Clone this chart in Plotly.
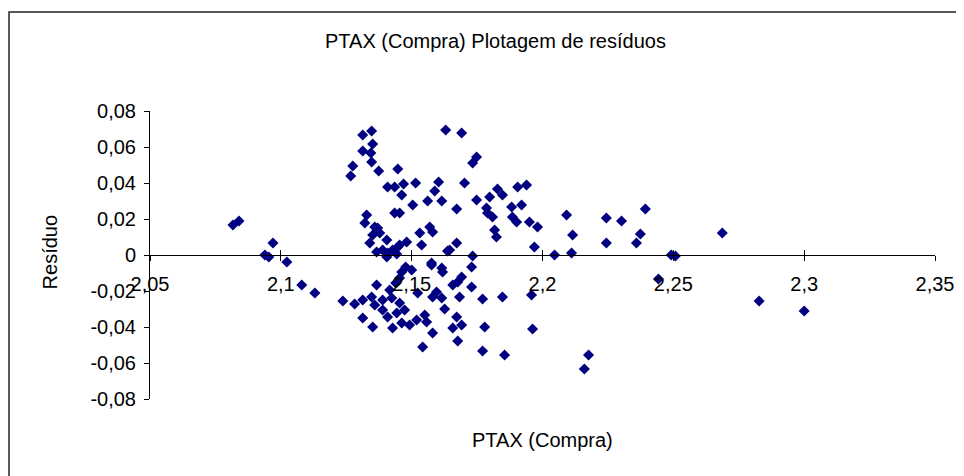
import plotly.graph_objects as go

# =============== data
ptax = [
    2.0817, 2.0840, 2.0939, 2.0954, 2.0970, 2.1023, 2.1080, 2.1130, 2.1237,
    2.1313, 2.1347, 2.1351, 2.1313, 2.1344, 2.1347, 2.1275, 2.1267, 2.1374, 2.1447,
    2.1408, 2.1435, 2.1462, 2.1469, 2.1515, 2.1630, 2.1691, 2.1748, 2.1733, 2.1603,
    2.1588, 2.1561, 2.1615, 2.1702, 2.1672, 2.1504, 2.1435, 2.1454, 2.1748, 2.1786,
    2.1328, 2.1321, 2.1370, 2.1351, 2.1340, 2.1405, 2.1389, 2.1408, 2.1481, 2.1447,
    2.1531, 2.1569, 2.1580, 2.1538, 2.1672, 2.1637, 2.1733, 2.1378, 2.1359, 2.1427,
    2.1454, 2.1645, 2.1366,
    2.1405, 2.1443, 2.1477, 2.1462, 2.1500, 2.1576, 2.1615, 2.1618, 2.1691, 2.1676,
    2.1729, 2.1366, 2.1282, 2.1313, 2.1347, 2.1389, 2.1408, 2.1313, 2.1351, 2.1454,
    2.1443, 2.1523, 2.1595, 2.1615, 2.1580, 2.1626, 2.1672, 2.1691, 2.1657, 2.1427,
    2.1462, 2.1492, 2.1519, 2.1550, 2.1557, 2.1580, 2.1542, 2.1676, 2.1771, 2.1779,
    2.1771, 2.1424, 2.1454, 2.1576, 2.1657, 2.1683, 2.1389, 2.1416, 2.1359, 2.1473,
    2.1439,
    2.1828, 2.1847, 2.1798, 2.1790, 2.1809, 2.1882, 2.1920, 2.1905, 2.1939, 2.1885,
    2.1901, 2.1950, 2.1981, 2.1817, 2.1824, 2.1969, 2.2046, 2.2111, 2.2092, 2.2115,
    2.2244, 2.2302, 2.2244, 2.2393, 2.2374, 2.2359, 2.2492, 2.2508, 2.2443, 2.2687,
    2.2828, 2.3000, 2.1729, 2.1847, 2.1958, 2.1962, 2.1855, 2.2176, 2.2160,
]
residuo = [
    0.0167, 0.0189, 0.0000, -0.0011, 0.0067, -0.0039, -0.0167, -0.0211, -0.0256,
    0.0667, 0.0689, 0.0617, 0.0578, 0.0567, 0.0517, 0.0494, 0.0439, 0.0467, 0.0478,
    0.0378, 0.0378, 0.0333, 0.0394, 0.0400, 0.0694, 0.0678, 0.0544, 0.0511, 0.0406,
    0.0356, 0.0300, 0.0300, 0.0400, 0.0256, 0.0278, 0.0233, 0.0233, 0.0306, 0.0261,
    0.0222, 0.0178, 0.0150, 0.0111, 0.0067, 0.0083, 0.0028, 0.0011, 0.0072, 0.0044,
    0.0122, 0.0156, 0.0128, 0.0056, 0.0067, 0.0022, -0.0006, 0.0122, 0.0156, 0.0028,
    0.0056, 0.0028, 0.0017,
    -0.0011, 0.0006, -0.0067, -0.0094, -0.0083, -0.0056, -0.0072, -0.0094, -0.0122, -0.0150,
    -0.0178, -0.0167, -0.0272, -0.0250, -0.0233, -0.0306, -0.0344, -0.0350, -0.0400, -0.0267,
    -0.0322, -0.0211, -0.0206, -0.0239, -0.0233, -0.0300, -0.0344, -0.0389, -0.0406, -0.0406,
    -0.0378, -0.0389, -0.0361, -0.0333, -0.0372, -0.0433, -0.0511, -0.0478, -0.0244, -0.0400,
    -0.0533, -0.0239, -0.0128, -0.0044, -0.0167, -0.0233, -0.0250, -0.0194, -0.0278, -0.0306,
    -0.0156,
    0.0367, 0.0333, 0.0322, 0.0233, 0.0211, 0.0267, 0.0278, 0.0378, 0.0389, 0.0211,
    0.0183, 0.0183, 0.0156, 0.0139, 0.0100, 0.0044, 0.0000, 0.0011, 0.0222, 0.0111,
    0.0206, 0.0189, 0.0067, 0.0256, 0.0117, 0.0067, 0.0000, -0.0006, -0.0133, 0.0122,
    -0.0256, -0.0311, -0.0067, -0.0233, -0.0222, -0.0411, -0.0556, -0.0556, -0.0633,
]

x_ticks = [2.05, 2.1, 2.15, 2.2, 2.25, 2.3, 2.35]
x_ticklabels = ['2,05', '2,1', '2,15', '2,2', '2,25', '2,3', '2,35']
y_ticks = [0.08, 0.06, 0.04, 0.02, 0, -0.02, -0.04, -0.06, -0.08]
y_ticklabels = ['0,08', '0,06', '0,04', '0,02', '0', '-0,02', '-0,04', '-0,06', '-0,08']

# =============== colours / fonts
markerCol = '#000080'
lineCol = '#000000'
fnt = 'Liberation Sans, Arial, sans-serif'

fig = go.Figure()
fig.add_trace(go.Scatter(x = ptax, y = residuo, mode = 'markers',
    marker = dict(symbol = 'diamond', size = 8.5, color = markerCol, line = dict(width = 0)),
    showlegend = False))
# invisible trace just to carry the inside half of the x ticks
fig.add_trace(go.Scatter(x = [2.05, 2.35], y = [0, 0], mode = 'markers', xaxis = 'x2',
    marker = dict(opacity = 0), showlegend = False, hoverinfo = 'skip'))

# =============== axes
fig.update_layout(
    xaxis = dict(range = [2.05, 2.35], tickvals = x_ticks, ticktext = x_ticklabels,
        anchor = 'free', position = 0.5, showline = True, linecolor = lineCol, linewidth = 1,
        ticks = 'outside', ticklen = 5, tickcolor = lineCol, showgrid = False, zeroline = False,
        ticklabelstandoff = 6,
        tickfont = dict(size = 20, color = 'black', family = fnt)),
    xaxis2 = dict(range = [2.05, 2.35], tickvals = x_ticks, showticklabels = False,
        overlaying = 'x', anchor = 'free', position = 0.5, ticks = 'inside', ticklen = 5,
        tickcolor = lineCol, showgrid = False, zeroline = False, showline = False),
    yaxis = dict(range = [-0.08, 0.08], tickvals = y_ticks, ticktext = y_ticklabels,
        showline = True, linecolor = lineCol, linewidth = 1, ticks = 'outside', ticklen = 5,
        tickcolor = lineCol, showgrid = False, zeroline = False, ticklabelstandoff = 4,
        tickfont = dict(size = 20, color = 'black', family = fnt)),
    width = 964, height = 476,
    # page body adds 8px, so margins are 8px short of the target plot box
    margin = dict(l = 142, r = 37, t = 103, b = 85),
    plot_bgcolor = 'white', paper_bgcolor = 'white',
    font = dict(family = fnt, color = 'black'),
)

# =============== titles (placed as annotations, Excel style)
fig.add_annotation(text = 'PTAX (Compra) Plotagem de resíduos', xref = 'paper', yref = 'paper',
    x = 0.4395, y = 1.243, xanchor = 'center', yanchor = 'middle', showarrow = False,
    font = dict(size = 20, family = fnt))
fig.add_annotation(text = 'PTAX (Compra)', xref = 'paper', yref = 'paper',
    x = 0.5006, y = -0.142, xanchor = 'center', yanchor = 'middle', showarrow = False,
    font = dict(size = 20, family = fnt))
fig.add_annotation(text = 'Resíduo', xref = 'paper', yref = 'paper', textangle = -90,
    x = -0.127, y = 0.51, xanchor = 'center', yanchor = 'middle', showarrow = False,
    font = dict(size = 20, family = fnt))

# =============== chart border
fig.add_shape(type = 'rect', xref = 'paper', yref = 'paper',
    x0 = -0.1796, y0 = -0.35, x1 = 1.1, y1 = 1.3438,
    line = dict(color = '#222222', width = 1.5))

fig.write_html("out.html")
